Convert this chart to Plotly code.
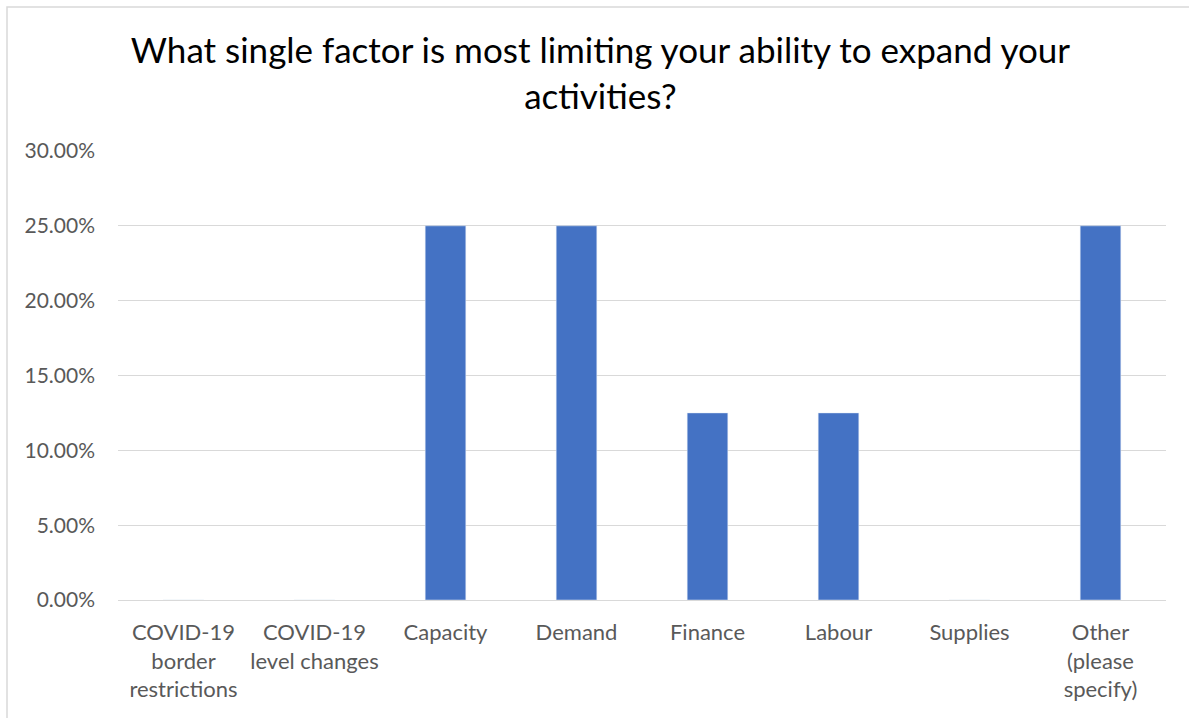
import plotly.graph_objects as go

categories = ["COVID-19<br>border<br>restrictions", "COVID-19<br>level changes", "Capacity", "Demand",
              "Finance", "Labour", "Supplies", "Other<br>(please<br>specify)"]
values = [0.0, 0.0, 0.25, 0.25, 0.125, 0.125, 0.0, 0.25]
tick_vals = [0, 0.05, 0.10, 0.15, 0.20, 0.25, 0.30]
tick_text = ["0.00%", "5.00%", "10.00%", "15.00%", "20.00%", "25.00%", "30.00%"]

W, H = 1189, 718
L, R, T, B = 118, 23, 151, 118
pw, ph = W - L - R, H - T - B

fig = go.Figure(go.Bar(x=categories, y=values, marker_color="#4472C4", width=0.31))

def px_x(p):
    return (p - L) / pw

def px_y(p):
    return (H - B - p) / ph

fig.add_shape(type="rect", xref="paper", yref="paper",
              x0=px_x(7), x1=px_x(1200), y0=px_y(730), y1=px_y(7),
              line=dict(color="#D9D9D9", width=1.5), fillcolor="rgba(0,0,0,0)")

fig.update_layout(
    width=W, height=H,
    margin=dict(l=L, r=R, t=T, b=B),
    paper_bgcolor="white", plot_bgcolor="white",
    font=dict(family="Lato, Open Sans, sans-serif", color="#595959"),
    title=dict(text="What single factor is most limiting your ability to expand your<br>activities?",
               x=0.505, xanchor="center", y=1 - 63 / H, yanchor="middle",
               font=dict(size=35, color="#000000", family="Lato, Open Sans, sans-serif")),
    showlegend=False,
    bargap=0.69,
)
fig.update_xaxes(showgrid=False, showline=False, ticks="", tickfont=dict(size=22, color="#595959"),
                 ticklabelstandoff=17)
fig.update_yaxes(range=[0, 0.30], tickvals=tick_vals, ticktext=tick_text,
                 showgrid=True, gridcolor="#D9D9D9", gridwidth=1.3,
                 zeroline=True, zerolinecolor="#D9D9D9", zerolinewidth=1.3,
                 showline=False, ticks="", tickfont=dict(size=21, color="#595959"),
                 ticklabelstandoff=22)

fig.write_html("out.html")
